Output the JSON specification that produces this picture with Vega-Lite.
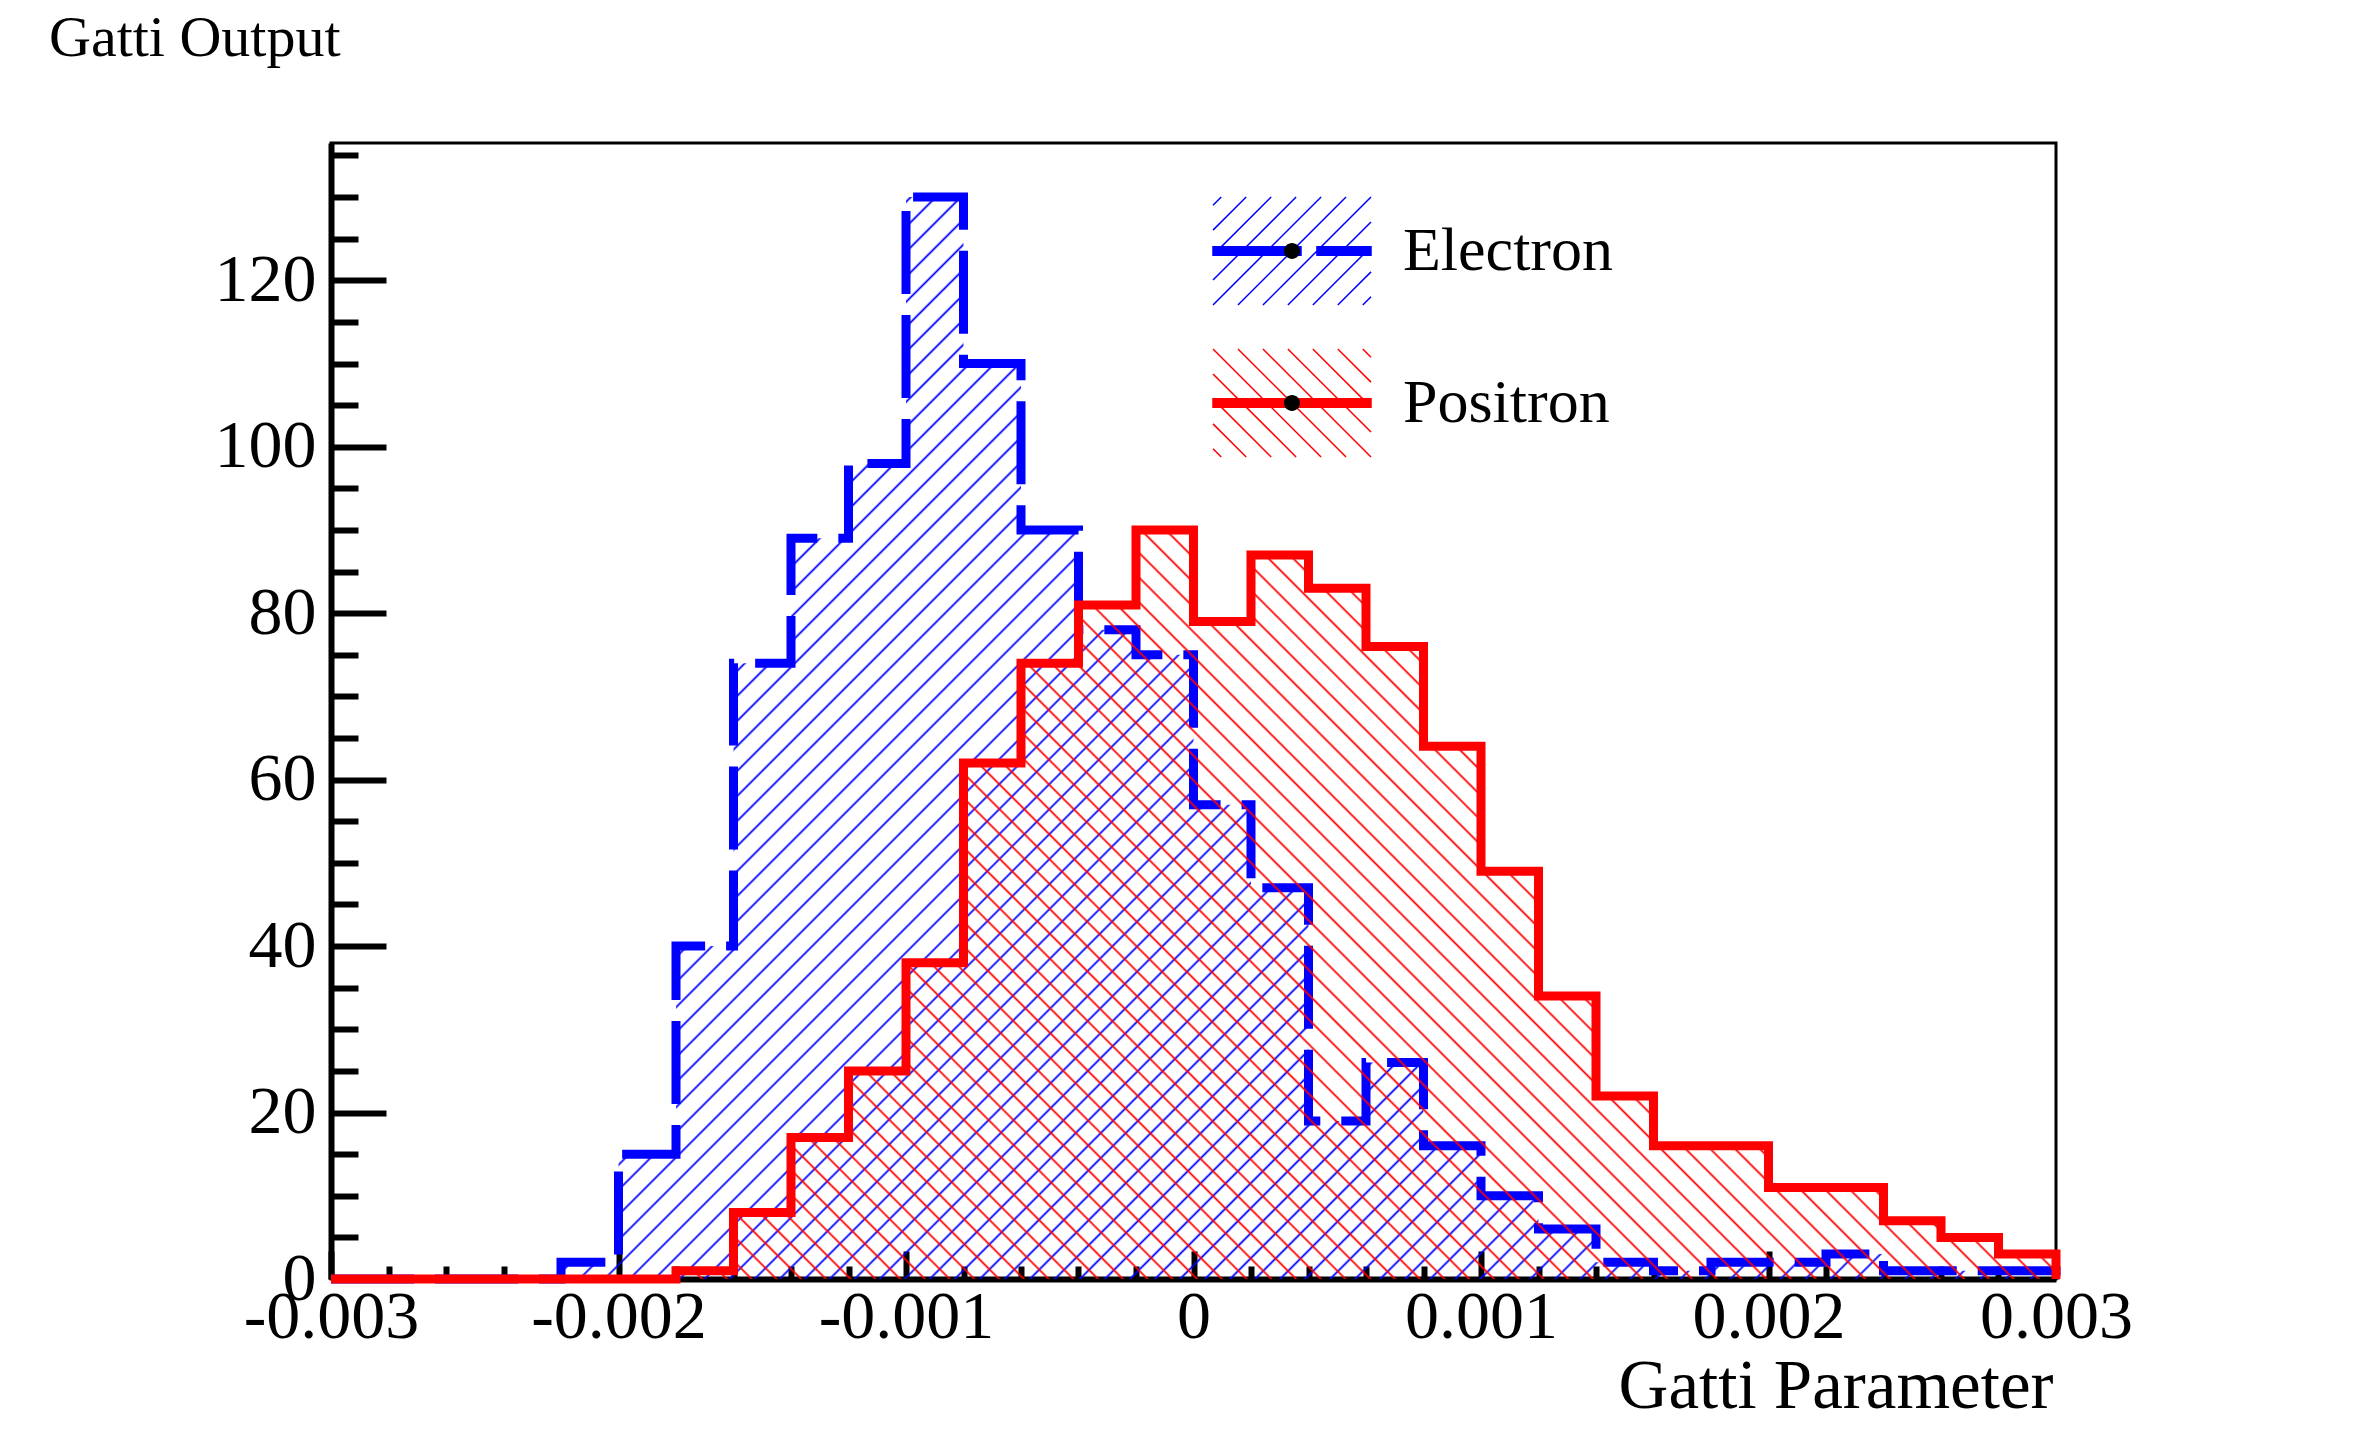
{
  "$schema": "https://vega.github.io/schema/vega-lite/v6.json",
  "autosize": {"type": "none"},
  "padding": {"left": 331, "top": 143, "right": 306, "bottom": 175},
  "width": 1725,
  "height": 1136,
  "background": "white",
  "title": {
    "text": "Gatti Output",
    "anchor": "start",
    "frame": "group",
    "font": "Liberation Serif",
    "fontSize": 58,
    "fontWeight": "normal",
    "color": "black",
    "baseline": "alphabetic",
    "offset": 29,
    "dx": -282
  },
  "datasets": {
    "hist": [
      {"particle": "Electron", "x": -0.003, "count": 0},
      {"particle": "Electron", "x": -0.0028, "count": 0},
      {"particle": "Electron", "x": -0.0026, "count": 0},
      {"particle": "Electron", "x": -0.0024, "count": 0},
      {"particle": "Electron", "x": -0.0022, "count": 2},
      {"particle": "Electron", "x": -0.002, "count": 15},
      {"particle": "Electron", "x": -0.0018, "count": 40},
      {"particle": "Electron", "x": -0.0016, "count": 74},
      {"particle": "Electron", "x": -0.0014, "count": 89},
      {"particle": "Electron", "x": -0.0012, "count": 98},
      {"particle": "Electron", "x": -0.001, "count": 130},
      {"particle": "Electron", "x": -0.0008, "count": 110},
      {"particle": "Electron", "x": -0.0006, "count": 90},
      {"particle": "Electron", "x": -0.0004, "count": 78},
      {"particle": "Electron", "x": -0.0002, "count": 75},
      {"particle": "Electron", "x": 0, "count": 57},
      {"particle": "Electron", "x": 0.0002, "count": 47},
      {"particle": "Electron", "x": 0.0004, "count": 19},
      {"particle": "Electron", "x": 0.0006, "count": 26},
      {"particle": "Electron", "x": 0.0008, "count": 16},
      {"particle": "Electron", "x": 0.001, "count": 10},
      {"particle": "Electron", "x": 0.0012, "count": 6},
      {"particle": "Electron", "x": 0.0014, "count": 2},
      {"particle": "Electron", "x": 0.0016, "count": 1},
      {"particle": "Electron", "x": 0.0018, "count": 2},
      {"particle": "Electron", "x": 0.002, "count": 2},
      {"particle": "Electron", "x": 0.0022, "count": 3},
      {"particle": "Electron", "x": 0.0024, "count": 1},
      {"particle": "Electron", "x": 0.0026, "count": 1},
      {"particle": "Electron", "x": 0.0028, "count": 1},
      {"particle": "Electron", "x": 0.003, "count": 0},
      {"particle": "Positron", "x": -0.003, "count": 0},
      {"particle": "Positron", "x": -0.0028, "count": 0},
      {"particle": "Positron", "x": -0.0026, "count": 0},
      {"particle": "Positron", "x": -0.0024, "count": 0},
      {"particle": "Positron", "x": -0.0022, "count": 0},
      {"particle": "Positron", "x": -0.002, "count": 0},
      {"particle": "Positron", "x": -0.0018, "count": 1},
      {"particle": "Positron", "x": -0.0016, "count": 8},
      {"particle": "Positron", "x": -0.0014, "count": 17},
      {"particle": "Positron", "x": -0.0012, "count": 25},
      {"particle": "Positron", "x": -0.001, "count": 38},
      {"particle": "Positron", "x": -0.0008, "count": 62},
      {"particle": "Positron", "x": -0.0006, "count": 74},
      {"particle": "Positron", "x": -0.0004, "count": 81},
      {"particle": "Positron", "x": -0.0002, "count": 90},
      {"particle": "Positron", "x": 0, "count": 79},
      {"particle": "Positron", "x": 0.0002, "count": 87},
      {"particle": "Positron", "x": 0.0004, "count": 83},
      {"particle": "Positron", "x": 0.0006, "count": 76},
      {"particle": "Positron", "x": 0.0008, "count": 64},
      {"particle": "Positron", "x": 0.001, "count": 49},
      {"particle": "Positron", "x": 0.0012, "count": 34},
      {"particle": "Positron", "x": 0.0014, "count": 22},
      {"particle": "Positron", "x": 0.0016, "count": 16},
      {"particle": "Positron", "x": 0.0018, "count": 16},
      {"particle": "Positron", "x": 0.002, "count": 11},
      {"particle": "Positron", "x": 0.0022, "count": 11},
      {"particle": "Positron", "x": 0.0024, "count": 7},
      {"particle": "Positron", "x": 0.0026, "count": 5},
      {"particle": "Positron", "x": 0.0028, "count": 3},
      {"particle": "Positron", "x": 0.003, "count": 0}
    ]
  },
  "data": {"name": "hist"},
  "encoding": {
    "x": {"field": "x", "type": "quantitative", "scale": {"domain": [-0.003, 0.003], "nice": false, "zero": false}, "axis": null},
    "y": {"field": "count", "type": "quantitative", "scale": {"domain": [0, 136.5], "nice": false}, "axis": null}
  },
  "layer": [
    {
      "transform": [{"filter": "datum.particle === 'Electron'"}],
      "mark": {
        "type": "area",
        "interpolate": "step-after",
        "fill": {"gradient": "linear", "x1": 0.127, "y1": 0.079, "x2": 1.168, "y2": 0.732, "stops": [
          {"offset":0,"color":"#00f"},{"offset":0.001,"color":"#00f0"},{"offset":0.009,"color":"#00f0"},
          {"offset":0.01,"color":"#00f"},{"offset":0.011,"color":"#00f0"},{"offset":0.019,"color":"#00f0"},
          {"offset":0.02,"color":"#00f"},{"offset":0.021,"color":"#00f0"},{"offset":0.029,"color":"#00f0"},
          {"offset":0.03,"color":"#00f"},{"offset":0.031,"color":"#00f0"},{"offset":0.039,"color":"#00f0"},
          {"offset":0.04,"color":"#00f"},{"offset":0.041,"color":"#00f0"},{"offset":0.049,"color":"#00f0"},
          {"offset":0.05,"color":"#00f"},{"offset":0.051,"color":"#00f0"},{"offset":0.059,"color":"#00f0"},
          {"offset":0.06,"color":"#00f"},{"offset":0.061,"color":"#00f0"},{"offset":0.069,"color":"#00f0"},
          {"offset":0.07,"color":"#00f"},{"offset":0.071,"color":"#00f0"},{"offset":0.079,"color":"#00f0"},
          {"offset":0.08,"color":"#00f"},{"offset":0.081,"color":"#00f0"},{"offset":0.089,"color":"#00f0"},
          {"offset":0.09,"color":"#00f"},{"offset":0.091,"color":"#00f0"},{"offset":0.099,"color":"#00f0"},
          {"offset":0.1,"color":"#00f"},{"offset":0.101,"color":"#00f0"},{"offset":0.109,"color":"#00f0"},
          {"offset":0.11,"color":"#00f"},{"offset":0.111,"color":"#00f0"},{"offset":0.119,"color":"#00f0"},
          {"offset":0.12,"color":"#00f"},{"offset":0.121,"color":"#00f0"},{"offset":0.129,"color":"#00f0"},
          {"offset":0.13,"color":"#00f"},{"offset":0.131,"color":"#00f0"},{"offset":0.139,"color":"#00f0"},
          {"offset":0.14,"color":"#00f"},{"offset":0.141,"color":"#00f0"},{"offset":0.149,"color":"#00f0"},
          {"offset":0.15,"color":"#00f"},{"offset":0.151,"color":"#00f0"},{"offset":0.159,"color":"#00f0"},
          {"offset":0.16,"color":"#00f"},{"offset":0.161,"color":"#00f0"},{"offset":0.169,"color":"#00f0"},
          {"offset":0.17,"color":"#00f"},{"offset":0.171,"color":"#00f0"},{"offset":0.179,"color":"#00f0"},
          {"offset":0.18,"color":"#00f"},{"offset":0.181,"color":"#00f0"},{"offset":0.189,"color":"#00f0"},
          {"offset":0.19,"color":"#00f"},{"offset":0.191,"color":"#00f0"},{"offset":0.199,"color":"#00f0"},
          {"offset":0.2,"color":"#00f"},{"offset":0.201,"color":"#00f0"},{"offset":0.209,"color":"#00f0"},
          {"offset":0.21,"color":"#00f"},{"offset":0.211,"color":"#00f0"},{"offset":0.219,"color":"#00f0"},
          {"offset":0.22,"color":"#00f"},{"offset":0.221,"color":"#00f0"},{"offset":0.229,"color":"#00f0"},
          {"offset":0.23,"color":"#00f"},{"offset":0.231,"color":"#00f0"},{"offset":0.239,"color":"#00f0"},
          {"offset":0.24,"color":"#00f"},{"offset":0.241,"color":"#00f0"},{"offset":0.249,"color":"#00f0"},
          {"offset":0.25,"color":"#00f"},{"offset":0.251,"color":"#00f0"},{"offset":0.259,"color":"#00f0"},
          {"offset":0.26,"color":"#00f"},{"offset":0.261,"color":"#00f0"},{"offset":0.269,"color":"#00f0"},
          {"offset":0.27,"color":"#00f"},{"offset":0.271,"color":"#00f0"},{"offset":0.279,"color":"#00f0"},
          {"offset":0.28,"color":"#00f"},{"offset":0.281,"color":"#00f0"},{"offset":0.289,"color":"#00f0"},
          {"offset":0.29,"color":"#00f"},{"offset":0.291,"color":"#00f0"},{"offset":0.299,"color":"#00f0"},
          {"offset":0.3,"color":"#00f"},{"offset":0.301,"color":"#00f0"},{"offset":0.309,"color":"#00f0"},
          {"offset":0.31,"color":"#00f"},{"offset":0.311,"color":"#00f0"},{"offset":0.319,"color":"#00f0"},
          {"offset":0.32,"color":"#00f"},{"offset":0.321,"color":"#00f0"},{"offset":0.329,"color":"#00f0"},
          {"offset":0.33,"color":"#00f"},{"offset":0.331,"color":"#00f0"},{"offset":0.339,"color":"#00f0"},
          {"offset":0.34,"color":"#00f"},{"offset":0.341,"color":"#00f0"},{"offset":0.349,"color":"#00f0"},
          {"offset":0.35,"color":"#00f"},{"offset":0.351,"color":"#00f0"},{"offset":0.359,"color":"#00f0"},
          {"offset":0.36,"color":"#00f"},{"offset":0.361,"color":"#00f0"},{"offset":0.369,"color":"#00f0"},
          {"offset":0.37,"color":"#00f"},{"offset":0.371,"color":"#00f0"},{"offset":0.379,"color":"#00f0"},
          {"offset":0.38,"color":"#00f"},{"offset":0.381,"color":"#00f0"},{"offset":0.389,"color":"#00f0"},
          {"offset":0.39,"color":"#00f"},{"offset":0.391,"color":"#00f0"},{"offset":0.399,"color":"#00f0"},
          {"offset":0.4,"color":"#00f"},{"offset":0.401,"color":"#00f0"},{"offset":0.409,"color":"#00f0"},
          {"offset":0.41,"color":"#00f"},{"offset":0.411,"color":"#00f0"},{"offset":0.419,"color":"#00f0"},
          {"offset":0.42,"color":"#00f"},{"offset":0.421,"color":"#00f0"},{"offset":0.429,"color":"#00f0"},
          {"offset":0.43,"color":"#00f"},{"offset":0.431,"color":"#00f0"},{"offset":0.439,"color":"#00f0"},
          {"offset":0.44,"color":"#00f"},{"offset":0.441,"color":"#00f0"},{"offset":0.449,"color":"#00f0"},
          {"offset":0.45,"color":"#00f"},{"offset":0.451,"color":"#00f0"},{"offset":0.459,"color":"#00f0"},
          {"offset":0.46,"color":"#00f"},{"offset":0.461,"color":"#00f0"},{"offset":0.469,"color":"#00f0"},
          {"offset":0.47,"color":"#00f"},{"offset":0.471,"color":"#00f0"},{"offset":0.479,"color":"#00f0"},
          {"offset":0.48,"color":"#00f"},{"offset":0.481,"color":"#00f0"},{"offset":0.489,"color":"#00f0"},
          {"offset":0.49,"color":"#00f"},{"offset":0.491,"color":"#00f0"},{"offset":0.499,"color":"#00f0"},
          {"offset":0.5,"color":"#00f"},{"offset":0.501,"color":"#00f0"},{"offset":0.509,"color":"#00f0"},
          {"offset":0.51,"color":"#00f"},{"offset":0.511,"color":"#00f0"},{"offset":0.519,"color":"#00f0"},
          {"offset":0.52,"color":"#00f"},{"offset":0.521,"color":"#00f0"},{"offset":0.529,"color":"#00f0"},
          {"offset":0.53,"color":"#00f"},{"offset":0.531,"color":"#00f0"},{"offset":0.539,"color":"#00f0"},
          {"offset":0.54,"color":"#00f"},{"offset":0.541,"color":"#00f0"},{"offset":0.549,"color":"#00f0"},
          {"offset":0.55,"color":"#00f"},{"offset":0.551,"color":"#00f0"},{"offset":0.559,"color":"#00f0"},
          {"offset":0.56,"color":"#00f"},{"offset":0.561,"color":"#00f0"},{"offset":0.569,"color":"#00f0"},
          {"offset":0.57,"color":"#00f"},{"offset":0.571,"color":"#00f0"},{"offset":0.579,"color":"#00f0"},
          {"offset":0.58,"color":"#00f"},{"offset":0.581,"color":"#00f0"},{"offset":0.589,"color":"#00f0"},
          {"offset":0.59,"color":"#00f"},{"offset":0.591,"color":"#00f0"},{"offset":0.599,"color":"#00f0"},
          {"offset":0.6,"color":"#00f"},{"offset":0.601,"color":"#00f0"},{"offset":0.609,"color":"#00f0"},
          {"offset":0.61,"color":"#00f"},{"offset":0.611,"color":"#00f0"},{"offset":0.619,"color":"#00f0"},
          {"offset":0.62,"color":"#00f"},{"offset":0.621,"color":"#00f0"},{"offset":0.629,"color":"#00f0"},
          {"offset":0.63,"color":"#00f"},{"offset":0.631,"color":"#00f0"},{"offset":0.639,"color":"#00f0"},
          {"offset":0.64,"color":"#00f"},{"offset":0.641,"color":"#00f0"},{"offset":0.649,"color":"#00f0"},
          {"offset":0.65,"color":"#00f"},{"offset":0.651,"color":"#00f0"},{"offset":0.659,"color":"#00f0"},
          {"offset":0.66,"color":"#00f"},{"offset":0.661,"color":"#00f0"},{"offset":0.669,"color":"#00f0"},
          {"offset":0.67,"color":"#00f"},{"offset":0.671,"color":"#00f0"},{"offset":0.679,"color":"#00f0"},
          {"offset":0.68,"color":"#00f"},{"offset":0.681,"color":"#00f0"},{"offset":0.689,"color":"#00f0"},
          {"offset":0.69,"color":"#00f"},{"offset":0.691,"color":"#00f0"},{"offset":0.699,"color":"#00f0"},
          {"offset":0.7,"color":"#00f"},{"offset":0.701,"color":"#00f0"},{"offset":0.709,"color":"#00f0"},
          {"offset":0.71,"color":"#00f"},{"offset":0.711,"color":"#00f0"},{"offset":0.719,"color":"#00f0"},
          {"offset":0.72,"color":"#00f"},{"offset":0.721,"color":"#00f0"},{"offset":0.729,"color":"#00f0"},
          {"offset":0.73,"color":"#00f"},{"offset":0.731,"color":"#00f0"},{"offset":0.739,"color":"#00f0"},
          {"offset":0.74,"color":"#00f"},{"offset":0.741,"color":"#00f0"},{"offset":0.749,"color":"#00f0"},
          {"offset":0.75,"color":"#00f"},{"offset":0.751,"color":"#00f0"},{"offset":0.759,"color":"#00f0"},
          {"offset":0.76,"color":"#00f"},{"offset":0.761,"color":"#00f0"},{"offset":0.769,"color":"#00f0"},
          {"offset":0.77,"color":"#00f"},{"offset":0.771,"color":"#00f0"},{"offset":0.779,"color":"#00f0"},
          {"offset":0.78,"color":"#00f"},{"offset":0.781,"color":"#00f0"},{"offset":0.789,"color":"#00f0"},
          {"offset":0.79,"color":"#00f"},{"offset":0.791,"color":"#00f0"},{"offset":0.799,"color":"#00f0"},
          {"offset":0.8,"color":"#00f"},{"offset":0.801,"color":"#00f0"},{"offset":0.809,"color":"#00f0"},
          {"offset":0.81,"color":"#00f"},{"offset":0.811,"color":"#00f0"},{"offset":0.819,"color":"#00f0"},
          {"offset":0.82,"color":"#00f"},{"offset":0.821,"color":"#00f0"},{"offset":0.829,"color":"#00f0"},
          {"offset":0.83,"color":"#00f"},{"offset":0.831,"color":"#00f0"},{"offset":0.839,"color":"#00f0"},
          {"offset":0.84,"color":"#00f"},{"offset":0.841,"color":"#00f0"},{"offset":0.849,"color":"#00f0"},
          {"offset":0.85,"color":"#00f"},{"offset":0.851,"color":"#00f0"},{"offset":0.859,"color":"#00f0"},
          {"offset":0.86,"color":"#00f"},{"offset":0.861,"color":"#00f0"},{"offset":0.869,"color":"#00f0"},
          {"offset":0.87,"color":"#00f"},{"offset":0.871,"color":"#00f0"},{"offset":0.879,"color":"#00f0"},
          {"offset":0.88,"color":"#00f"},{"offset":0.881,"color":"#00f0"},{"offset":0.889,"color":"#00f0"},
          {"offset":0.89,"color":"#00f"},{"offset":0.891,"color":"#00f0"},{"offset":0.899,"color":"#00f0"},
          {"offset":0.9,"color":"#00f"},{"offset":0.901,"color":"#00f0"},{"offset":0.909,"color":"#00f0"},
          {"offset":0.91,"color":"#00f"},{"offset":0.911,"color":"#00f0"},{"offset":0.919,"color":"#00f0"},
          {"offset":0.92,"color":"#00f"},{"offset":0.921,"color":"#00f0"},{"offset":0.929,"color":"#00f0"},
          {"offset":0.93,"color":"#00f"},{"offset":0.931,"color":"#00f0"},{"offset":0.939,"color":"#00f0"},
          {"offset":0.94,"color":"#00f"},{"offset":0.941,"color":"#00f0"},{"offset":0.949,"color":"#00f0"},
          {"offset":0.95,"color":"#00f"},{"offset":0.951,"color":"#00f0"},{"offset":0.959,"color":"#00f0"},
          {"offset":0.96,"color":"#00f"},{"offset":0.961,"color":"#00f0"},{"offset":0.969,"color":"#00f0"},
          {"offset":0.97,"color":"#00f"},{"offset":0.971,"color":"#00f0"},{"offset":0.979,"color":"#00f0"},
          {"offset":0.98,"color":"#00f"},{"offset":0.981,"color":"#00f0"},{"offset":0.989,"color":"#00f0"},
          {"offset":0.99,"color":"#00f"},{"offset":0.991,"color":"#00f0"},{"offset":0.999,"color":"#00f0"}
        ]}
      },
      "encoding": {
        "x": {
          "field": "x", "type": "quantitative",
          "scale": {"domain": [-0.003, 0.003], "nice": false, "zero": false},
          "axis": {
            "orient": "bottom",
            "values": [-0.003, -0.002, -0.001, 0, 0.001, 0.002, 0.003],
            "tickSize": -28, "tickWidth": 6, "domainWidth": 6,
            "labelFont": "Liberation Serif", "labelFontSize": 68,
            "labelPadding": 86, "labelBaseline": "alphabetic",
            "labelFlush": false, "labelOverlap": false,
            "labelExpr": "datum.value == 0 ? '0' : (datum.value < 0 ? '-' : '') + format(abs(datum.value), '.3f')",
            "grid": false,
            "title": "Gatti Parameter",
            "titleFont": "Liberation Serif", "titleFontSize": 69, "titleFontWeight": "normal",
            "titleAlign": "right", "titleBaseline": "alphabetic",
            "titleX": 1722, "titleY": 128
          }
        },
        "y": {
          "field": "count", "type": "quantitative",
          "scale": {"domain": [0, 136.5], "nice": false},
          "axis": {
            "orient": "left",
            "values": [0, 20, 40, 60, 80, 100, 120],
            "tickSize": -55, "tickWidth": 6, "domainWidth": 6,
            "labelFont": "Liberation Serif", "labelFontSize": 68,
            "labelPadding": 70, "labelBaseline": "middle", "labelAlign": "right",
            "labelFlush": false, "labelOverlap": false,
            "grid": false, "title": null
          }
        }
      }
    },
    {
      "transform": [{"filter": "datum.particle === 'Electron'"}],
      "mark": {"type": "line", "interpolate": "step-after", "stroke": "#0000ff", "strokeWidth": 9, "strokeDash": [83, 21], "strokeJoin": "miter", "strokeCap": "butt"},
      "encoding": {}
    },
    {
      "transform": [{"filter": "datum.particle === 'Positron'"}],
      "mark": {
        "type": "area",
        "interpolate": "step-after",
        "fill": {"gradient": "linear", "x1": 0, "y1": 1, "x2": 1.207, "y2": 0.476, "stops": [
          {"offset":0,"color":"#f00"},{"offset":0.001,"color":"#f000"},{"offset":0.009,"color":"#f000"},
          {"offset":0.01,"color":"#f00"},{"offset":0.011,"color":"#f000"},{"offset":0.019,"color":"#f000"},
          {"offset":0.02,"color":"#f00"},{"offset":0.021,"color":"#f000"},{"offset":0.029,"color":"#f000"},
          {"offset":0.03,"color":"#f00"},{"offset":0.031,"color":"#f000"},{"offset":0.039,"color":"#f000"},
          {"offset":0.04,"color":"#f00"},{"offset":0.041,"color":"#f000"},{"offset":0.049,"color":"#f000"},
          {"offset":0.05,"color":"#f00"},{"offset":0.051,"color":"#f000"},{"offset":0.059,"color":"#f000"},
          {"offset":0.06,"color":"#f00"},{"offset":0.061,"color":"#f000"},{"offset":0.069,"color":"#f000"},
          {"offset":0.07,"color":"#f00"},{"offset":0.071,"color":"#f000"},{"offset":0.079,"color":"#f000"},
          {"offset":0.08,"color":"#f00"},{"offset":0.081,"color":"#f000"},{"offset":0.089,"color":"#f000"},
          {"offset":0.09,"color":"#f00"},{"offset":0.091,"color":"#f000"},{"offset":0.099,"color":"#f000"},
          {"offset":0.1,"color":"#f00"},{"offset":0.101,"color":"#f000"},{"offset":0.109,"color":"#f000"},
          {"offset":0.11,"color":"#f00"},{"offset":0.111,"color":"#f000"},{"offset":0.119,"color":"#f000"},
          {"offset":0.12,"color":"#f00"},{"offset":0.121,"color":"#f000"},{"offset":0.129,"color":"#f000"},
          {"offset":0.13,"color":"#f00"},{"offset":0.131,"color":"#f000"},{"offset":0.139,"color":"#f000"},
          {"offset":0.14,"color":"#f00"},{"offset":0.141,"color":"#f000"},{"offset":0.149,"color":"#f000"},
          {"offset":0.15,"color":"#f00"},{"offset":0.151,"color":"#f000"},{"offset":0.159,"color":"#f000"},
          {"offset":0.16,"color":"#f00"},{"offset":0.161,"color":"#f000"},{"offset":0.169,"color":"#f000"},
          {"offset":0.17,"color":"#f00"},{"offset":0.171,"color":"#f000"},{"offset":0.179,"color":"#f000"},
          {"offset":0.18,"color":"#f00"},{"offset":0.181,"color":"#f000"},{"offset":0.189,"color":"#f000"},
          {"offset":0.19,"color":"#f00"},{"offset":0.191,"color":"#f000"},{"offset":0.199,"color":"#f000"},
          {"offset":0.2,"color":"#f00"},{"offset":0.201,"color":"#f000"},{"offset":0.209,"color":"#f000"},
          {"offset":0.21,"color":"#f00"},{"offset":0.211,"color":"#f000"},{"offset":0.219,"color":"#f000"},
          {"offset":0.22,"color":"#f00"},{"offset":0.221,"color":"#f000"},{"offset":0.229,"color":"#f000"},
          {"offset":0.23,"color":"#f00"},{"offset":0.231,"color":"#f000"},{"offset":0.239,"color":"#f000"},
          {"offset":0.24,"color":"#f00"},{"offset":0.241,"color":"#f000"},{"offset":0.249,"color":"#f000"},
          {"offset":0.25,"color":"#f00"},{"offset":0.251,"color":"#f000"},{"offset":0.259,"color":"#f000"},
          {"offset":0.26,"color":"#f00"},{"offset":0.261,"color":"#f000"},{"offset":0.269,"color":"#f000"},
          {"offset":0.27,"color":"#f00"},{"offset":0.271,"color":"#f000"},{"offset":0.279,"color":"#f000"},
          {"offset":0.28,"color":"#f00"},{"offset":0.281,"color":"#f000"},{"offset":0.289,"color":"#f000"},
          {"offset":0.29,"color":"#f00"},{"offset":0.291,"color":"#f000"},{"offset":0.299,"color":"#f000"},
          {"offset":0.3,"color":"#f00"},{"offset":0.301,"color":"#f000"},{"offset":0.309,"color":"#f000"},
          {"offset":0.31,"color":"#f00"},{"offset":0.311,"color":"#f000"},{"offset":0.319,"color":"#f000"},
          {"offset":0.32,"color":"#f00"},{"offset":0.321,"color":"#f000"},{"offset":0.329,"color":"#f000"},
          {"offset":0.33,"color":"#f00"},{"offset":0.331,"color":"#f000"},{"offset":0.339,"color":"#f000"},
          {"offset":0.34,"color":"#f00"},{"offset":0.341,"color":"#f000"},{"offset":0.349,"color":"#f000"},
          {"offset":0.35,"color":"#f00"},{"offset":0.351,"color":"#f000"},{"offset":0.359,"color":"#f000"},
          {"offset":0.36,"color":"#f00"},{"offset":0.361,"color":"#f000"},{"offset":0.369,"color":"#f000"},
          {"offset":0.37,"color":"#f00"},{"offset":0.371,"color":"#f000"},{"offset":0.379,"color":"#f000"},
          {"offset":0.38,"color":"#f00"},{"offset":0.381,"color":"#f000"},{"offset":0.389,"color":"#f000"},
          {"offset":0.39,"color":"#f00"},{"offset":0.391,"color":"#f000"},{"offset":0.399,"color":"#f000"},
          {"offset":0.4,"color":"#f00"},{"offset":0.401,"color":"#f000"},{"offset":0.409,"color":"#f000"},
          {"offset":0.41,"color":"#f00"},{"offset":0.411,"color":"#f000"},{"offset":0.419,"color":"#f000"},
          {"offset":0.42,"color":"#f00"},{"offset":0.421,"color":"#f000"},{"offset":0.429,"color":"#f000"},
          {"offset":0.43,"color":"#f00"},{"offset":0.431,"color":"#f000"},{"offset":0.439,"color":"#f000"},
          {"offset":0.44,"color":"#f00"},{"offset":0.441,"color":"#f000"},{"offset":0.449,"color":"#f000"},
          {"offset":0.45,"color":"#f00"},{"offset":0.451,"color":"#f000"},{"offset":0.459,"color":"#f000"},
          {"offset":0.46,"color":"#f00"},{"offset":0.461,"color":"#f000"},{"offset":0.469,"color":"#f000"},
          {"offset":0.47,"color":"#f00"},{"offset":0.471,"color":"#f000"},{"offset":0.479,"color":"#f000"},
          {"offset":0.48,"color":"#f00"},{"offset":0.481,"color":"#f000"},{"offset":0.489,"color":"#f000"},
          {"offset":0.49,"color":"#f00"},{"offset":0.491,"color":"#f000"},{"offset":0.499,"color":"#f000"},
          {"offset":0.5,"color":"#f00"},{"offset":0.501,"color":"#f000"},{"offset":0.509,"color":"#f000"},
          {"offset":0.51,"color":"#f00"},{"offset":0.511,"color":"#f000"},{"offset":0.519,"color":"#f000"},
          {"offset":0.52,"color":"#f00"},{"offset":0.521,"color":"#f000"},{"offset":0.529,"color":"#f000"},
          {"offset":0.53,"color":"#f00"},{"offset":0.531,"color":"#f000"},{"offset":0.539,"color":"#f000"},
          {"offset":0.54,"color":"#f00"},{"offset":0.541,"color":"#f000"},{"offset":0.549,"color":"#f000"},
          {"offset":0.55,"color":"#f00"},{"offset":0.551,"color":"#f000"},{"offset":0.559,"color":"#f000"},
          {"offset":0.56,"color":"#f00"},{"offset":0.561,"color":"#f000"},{"offset":0.569,"color":"#f000"},
          {"offset":0.57,"color":"#f00"},{"offset":0.571,"color":"#f000"},{"offset":0.579,"color":"#f000"},
          {"offset":0.58,"color":"#f00"},{"offset":0.581,"color":"#f000"},{"offset":0.589,"color":"#f000"},
          {"offset":0.59,"color":"#f00"},{"offset":0.591,"color":"#f000"},{"offset":0.599,"color":"#f000"},
          {"offset":0.6,"color":"#f00"},{"offset":0.601,"color":"#f000"},{"offset":0.609,"color":"#f000"},
          {"offset":0.61,"color":"#f00"},{"offset":0.611,"color":"#f000"},{"offset":0.619,"color":"#f000"},
          {"offset":0.62,"color":"#f00"},{"offset":0.621,"color":"#f000"},{"offset":0.629,"color":"#f000"},
          {"offset":0.63,"color":"#f00"},{"offset":0.631,"color":"#f000"},{"offset":0.639,"color":"#f000"},
          {"offset":0.64,"color":"#f00"},{"offset":0.641,"color":"#f000"},{"offset":0.649,"color":"#f000"},
          {"offset":0.65,"color":"#f00"},{"offset":0.651,"color":"#f000"},{"offset":0.659,"color":"#f000"},
          {"offset":0.66,"color":"#f00"},{"offset":0.661,"color":"#f000"},{"offset":0.669,"color":"#f000"},
          {"offset":0.67,"color":"#f00"},{"offset":0.671,"color":"#f000"},{"offset":0.679,"color":"#f000"},
          {"offset":0.68,"color":"#f00"},{"offset":0.681,"color":"#f000"},{"offset":0.689,"color":"#f000"},
          {"offset":0.69,"color":"#f00"},{"offset":0.691,"color":"#f000"},{"offset":0.699,"color":"#f000"},
          {"offset":0.7,"color":"#f00"},{"offset":0.701,"color":"#f000"},{"offset":0.709,"color":"#f000"},
          {"offset":0.71,"color":"#f00"},{"offset":0.711,"color":"#f000"},{"offset":0.719,"color":"#f000"},
          {"offset":0.72,"color":"#f00"},{"offset":0.721,"color":"#f000"},{"offset":0.729,"color":"#f000"},
          {"offset":0.73,"color":"#f00"},{"offset":0.731,"color":"#f000"},{"offset":0.739,"color":"#f000"},
          {"offset":0.74,"color":"#f00"},{"offset":0.741,"color":"#f000"},{"offset":0.749,"color":"#f000"},
          {"offset":0.75,"color":"#f00"},{"offset":0.751,"color":"#f000"},{"offset":0.759,"color":"#f000"},
          {"offset":0.76,"color":"#f00"},{"offset":0.761,"color":"#f000"},{"offset":0.769,"color":"#f000"},
          {"offset":0.77,"color":"#f00"},{"offset":0.771,"color":"#f000"},{"offset":0.779,"color":"#f000"},
          {"offset":0.78,"color":"#f00"},{"offset":0.781,"color":"#f000"},{"offset":0.789,"color":"#f000"},
          {"offset":0.79,"color":"#f00"},{"offset":0.791,"color":"#f000"},{"offset":0.799,"color":"#f000"},
          {"offset":0.8,"color":"#f00"},{"offset":0.801,"color":"#f000"},{"offset":0.809,"color":"#f000"},
          {"offset":0.81,"color":"#f00"},{"offset":0.811,"color":"#f000"},{"offset":0.819,"color":"#f000"},
          {"offset":0.82,"color":"#f00"},{"offset":0.821,"color":"#f000"},{"offset":0.829,"color":"#f000"},
          {"offset":0.83,"color":"#f00"},{"offset":0.831,"color":"#f000"},{"offset":0.839,"color":"#f000"},
          {"offset":0.84,"color":"#f00"},{"offset":0.841,"color":"#f000"},{"offset":0.849,"color":"#f000"},
          {"offset":0.85,"color":"#f00"},{"offset":0.851,"color":"#f000"},{"offset":0.859,"color":"#f000"},
          {"offset":0.86,"color":"#f00"},{"offset":0.861,"color":"#f000"},{"offset":0.869,"color":"#f000"},
          {"offset":0.87,"color":"#f00"},{"offset":0.871,"color":"#f000"},{"offset":0.879,"color":"#f000"},
          {"offset":0.88,"color":"#f00"},{"offset":0.881,"color":"#f000"},{"offset":0.889,"color":"#f000"},
          {"offset":0.89,"color":"#f00"},{"offset":0.891,"color":"#f000"},{"offset":0.899,"color":"#f000"},
          {"offset":0.9,"color":"#f00"},{"offset":0.901,"color":"#f000"},{"offset":0.909,"color":"#f000"},
          {"offset":0.91,"color":"#f00"},{"offset":0.911,"color":"#f000"},{"offset":0.919,"color":"#f000"},
          {"offset":0.92,"color":"#f00"},{"offset":0.921,"color":"#f000"},{"offset":0.929,"color":"#f000"},
          {"offset":0.93,"color":"#f00"},{"offset":0.931,"color":"#f000"},{"offset":0.939,"color":"#f000"},
          {"offset":0.94,"color":"#f00"},{"offset":0.941,"color":"#f000"},{"offset":0.949,"color":"#f000"},
          {"offset":0.95,"color":"#f00"},{"offset":0.951,"color":"#f000"},{"offset":0.959,"color":"#f000"},
          {"offset":0.96,"color":"#f00"},{"offset":0.961,"color":"#f000"},{"offset":0.969,"color":"#f000"},
          {"offset":0.97,"color":"#f00"},{"offset":0.971,"color":"#f000"},{"offset":0.979,"color":"#f000"},
          {"offset":0.98,"color":"#f00"},{"offset":0.981,"color":"#f000"},{"offset":0.989,"color":"#f000"},
          {"offset":0.99,"color":"#f00"},{"offset":0.991,"color":"#f000"},{"offset":0.999,"color":"#f000"}
        ]}
      },
      "encoding": {}
    },
    {
      "transform": [{"filter": "datum.particle === 'Positron'"}],
      "mark": {"type": "line", "interpolate": "step-after", "stroke": "#ff0000", "strokeWidth": 9, "strokeJoin": "miter", "strokeCap": "butt"},
      "encoding": {}
    },
    {
      "mark": {"type": "point", "filled": true, "opacity": 0, "strokeWidth": 1.5},
      "encoding": {
        "x": {
          "field": "x", "type": "quantitative",
          "scale": {"domain": [-0.003, 0.003], "nice": false, "zero": false},
          "axis": {
            "orient": "bottom",
            "values": [-0.0028, -0.0026, -0.0024, -0.0022, -0.0018, -0.0016, -0.0014, -0.0012, -0.0008, -0.0006, -0.0004, -0.0002, 0.0002, 0.0004, 0.0006, 0.0008, 0.0012, 0.0014, 0.0016, 0.0018, 0.0022, 0.0024, 0.0026, 0.0028],
            "tickSize": -13, "tickWidth": 6,
            "labels": false, "domain": false, "grid": false, "title": null
          }
        },
        "y": {
          "field": "count", "type": "quantitative",
          "scale": {"domain": [0, 136.5], "nice": false},
          "axis": {
            "orient": "left",
            "values": [5, 10, 15, 25, 30, 35, 45, 50, 55, 65, 70, 75, 85, 90, 95, 105, 110, 115, 125, 130, 135],
            "tickSize": -27, "tickWidth": 6,
            "labels": false, "domain": false, "grid": false, "title": null
          }
        },
        "fill": {
          "field": "particle", "type": "nominal",
          "scale": {"range": ["#0000ff", "#ff0000"]},
          "legend": {
            "orient": "none", "legendX": 881, "legendY": 28,
            "title": null, "padding": 0, "rowPadding": 14,
            "symbolSize": 24964, "symbolStrokeWidth": 1.5, "symbolOpacity": 1,
            "labelFont": "Liberation Serif", "labelFontSize": 62, "labelColor": "black",
            "labelOffset": 31, "labelLimit": 0
          }
        },
        "stroke": {
          "field": "particle", "type": "nominal",
          "scale": {"range": ["#0000ff", "#ff0000"]},
          "legend": {
            "orient": "none", "legendX": 881, "legendY": 28,
            "title": null, "padding": 0, "rowPadding": 14,
            "symbolSize": 24964, "symbolStrokeWidth": 1.5, "symbolOpacity": 1,
            "labelFont": "Liberation Serif", "labelFontSize": 62, "labelColor": "black",
            "labelOffset": 31, "labelLimit": 0
          }
        },
        "shape": {
          "field": "particle", "type": "nominal",
          "scale": {"range": [
            "M-1,-0.58L-0.896,-0.684M-1,-0.264L-0.58,-0.684M-1,0.052L-0.264,-0.684M-1,0.368L0.052,-0.684M-1,0.684L0.368,-0.684M-0.684,0.684L0.684,-0.684M-0.368,0.684L1,-0.684M-0.052,0.684L1,-0.368M0.264,0.684L1,-0.052M0.58,0.684L1,0.264M0.896,0.684L1,0.58M-1,-0.054H0.114V0.054H-1ZM0.316,-0.054H1V0.054H0.316Z",
            "M-1,0.58L-0.896,0.684M-1,0.264L-0.58,0.684M-1,-0.052L-0.264,0.684M-1,-0.368L0.052,0.684M-1,-0.684L0.368,0.684M-0.684,-0.684L0.684,0.684M-0.368,-0.684L1,0.684M-0.052,-0.684L1,0.368M0.264,-0.684L1,0.052M0.58,-0.684L1,-0.264M0.896,-0.684L1,-0.58M-1,-0.054H1V0.054H-1Z"
          ]},
          "legend": {
            "orient": "none", "legendX": 881, "legendY": 28,
            "title": null, "padding": 0, "rowPadding": 14,
            "symbolSize": 24964, "symbolStrokeWidth": 1.5, "symbolOpacity": 1,
            "labelFont": "Liberation Serif", "labelFontSize": 62, "labelColor": "black",
            "labelOffset": 31, "labelLimit": 0
          }
        }
      }
    },
    {
      "transform": [{"filter": "datum.count >= 0"}],
      "mark": {
        "type": "point", "filled": true, "fill": "black", "opacity": 0, "strokeWidth": 1.5,
        "shape": "M0.101,0A0.101,0.101,0,1,1,-0.101,0A0.101,0.101,0,1,1,0.101,0ZM-1,-0.684L-1,-0.684M1,0.684L1,0.684"
      },
      "encoding": {
        "size": {
          "field": "particle", "type": "nominal",
          "scale": {"range": [24964, 24964]},
          "legend": {
            "orient": "none", "legendX": 881, "legendY": 28,
            "title": null, "padding": 0, "rowPadding": 14,
            "symbolType": "M0.101,0A0.101,0.101,0,1,1,-0.101,0A0.101,0.101,0,1,1,0.101,0ZM-1,-0.684L-1,-0.684M1,0.684L1,0.684",
            "symbolStrokeWidth": 1.5, "symbolOpacity": 1,
            "symbolFillColor": "black", "symbolStrokeColor": "transparent",
            "labelFont": "Liberation Serif", "labelFontSize": 62,
            "labelOpacity": 0, "labelExpr": "''",
            "labelOffset": 31, "labelLimit": 0, "zindex": 1
          }
        }
      }
    }
  ],
  "resolve": {
    "axis": {"x": "independent", "y": "independent"}
  },
  "config": {
    "font": "Liberation Serif",
    "view": {"stroke": "black", "strokeWidth": 3},
    "axis": {"tickColor": "black", "domainColor": "black", "labelColor": "black", "titleColor": "black"}
  }
}
